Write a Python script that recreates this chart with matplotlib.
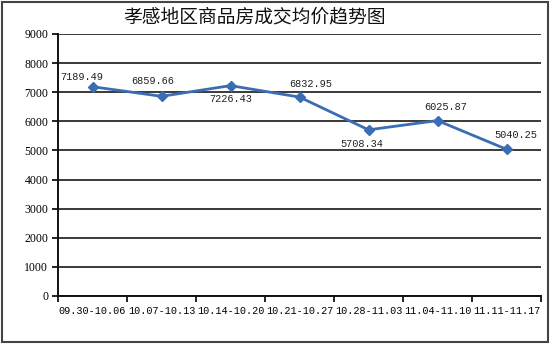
import matplotlib
matplotlib.use("Agg")
import matplotlib.pyplot as plt
from matplotlib.patches import Rectangle
from matplotlib.ticker import FixedLocator, MultipleLocator

# weekly average transaction price, Xiaogan commercial housing
weeks = ["09.30-10.06", "10.07-10.13", "10.14-10.20", "10.21-10.27",
         "10.28-11.03", "11.04-11.10", "11.11-11.17"]
avg_price = [7189.49, 6859.66, 7226.43, 6832.95, 5708.34, 6025.87, 5040.25]

# label offsets in pixels (dx, dy) relative to each point
label_offsets = [(-11, 10), (-9, 15), (0, -13), (11, 13),
                 (-7, -14), (8, 14), (9, 14)]

title = "孝感地区商品房成交均价趋势图"
line_color = "#3a6db4"
grid_color = "#2b2b2b"
num_font = ["Liberation Mono", "DejaVu Sans Mono"]

fig = plt.figure(figsize=(5.5, 3.44), dpi=100)
ax = fig.add_axes([58 / 550, 48 / 344, 483 / 550, 262 / 344])

x = list(range(len(weeks)))
ax.plot(x, avg_price, color=line_color, lw=2, marker="D", ms=5.5,
        mfc=line_color, mec=line_color, zorder=3)

for xi, v, (dx, dy) in zip(x, avg_price, label_offsets):
    ax.annotate(f"{v:.2f}", (xi, v), xytext=(dx, dy), textcoords="offset pixels",
                ha="center", va="center", fontsize=7.4, family=num_font,
                color="#222222")

ax.set_xlim(-0.5, len(weeks) - 0.5)
ax.set_ylim(0, 9000)
ax.yaxis.set_major_locator(MultipleLocator(1000))
ax.grid(axis="y", color=grid_color, lw=1.3)
ax.set_axisbelow(True)

# category boundaries get the tick marks, centres get the labels
ax.xaxis.set_major_locator(FixedLocator([i - 0.5 for i in range(len(weeks) + 1)]))
ax.xaxis.set_minor_locator(FixedLocator(x))
ax.set_xticklabels([], minor=False)
ax.set_xticklabels(weeks, minor=True, fontsize=7.3, family=num_font)
ax.tick_params(axis="x", which="major", direction="out", length=4, width=1.3,
               color="#111111")
ax.tick_params(axis="x", which="minor", length=0, pad=7)
ax.tick_params(axis="y", direction="out", length=4, width=1.3, color="#111111",
               labelsize=8.5, pad=3)
for lbl in ax.get_yticklabels():
    lbl.set_family("Liberation Serif")

for side in ("top", "right"):
    ax.spines[side].set_visible(False)
for side in ("left", "bottom"):
    ax.spines[side].set_color("#111111")
    ax.spines[side].set_linewidth(1.4)

fig.text(255 / 550, 1 - 17 / 344, title, ha="center", va="center",
         fontsize=13.5, family=["Noto Sans CJK SC", "DejaVu Sans"], color="#111111")

# outer frame around the whole chart
fig.patches.append(Rectangle((1.5 / 550, 2 / 344), 546 / 550, 340 / 344,
                             transform=fig.transFigure, fill=False,
                             ec="#444444", lw=1.5))

fig.savefig("out.png", dpi=100)
